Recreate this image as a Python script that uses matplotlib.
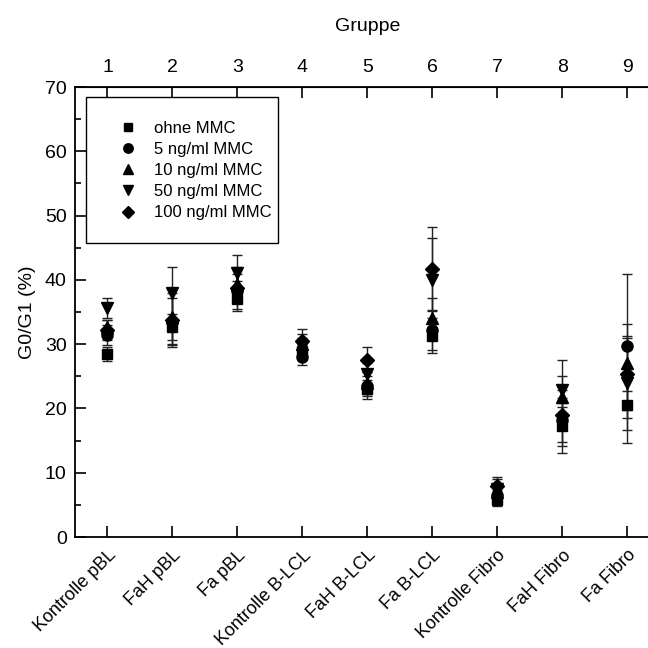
import matplotlib
matplotlib.use("Agg")
import matplotlib.pyplot as plt
from matplotlib.ticker import MultipleLocator
from matplotlib.lines import Line2D
from matplotlib.patches import Rectangle

plt.rcParams['font.family'] = ['Liberation Sans', 'DejaVu Sans']

groups = [1, 2, 3, 4, 5, 6, 7, 8, 9]
categories = ["Kontrolle pBL", "FaH pBL", "Fa pBL", "Kontrolle B-LCL", "FaH B-LCL",
              "Fa B-LCL", "Kontrolle Fibro", "FaH Fibro", "Fa Fibro"]

series_names = ["ohne MMC", "5 ng/ml MMC", "10 ng/ml MMC", "50 ng/ml MMC", "100 ng/ml MMC"]
ohne = [28.5, 32.7, 37.1, 29.0, 23.0, 31.3, 5.7, 17.2, 20.6]
ng5 = [31.4, 33.5, 38.2, 28.0, 23.5, 32.2, 6.5, 18.2, 29.7]
ng10 = [32.7, 34.3, 39.3, 30.0, 24.0, 34.0, 7.0, 21.8, 27.0]
ng50 = [35.6, 37.9, 41.0, 29.5, 25.3, 40.0, 7.5, 22.9, 23.9]
ng100 = [32.2, 33.7, 38.7, 30.5, 27.6, 41.7, 8.0, 19.0, 25.3]

err_ohne = [1.1, 2.0, 2.0, 1.5, 1.5, 2.7, 0.8, 3.0, 4.0]
err_ng5 = [1.6, 3.7, 1.6, 1.2, 1.5, 3.1, 0.8, 3.4, 11.2]
err_ng10 = [1.0, 4.3, 1.6, 1.6, 1.7, 3.2, 1.0, 1.0, 4.3]
err_ng50 = [1.6, 4.1, 2.9, 1.5, 1.8, 6.5, 1.5, 4.7, 9.2]
err_ng100 = [1.5, 4.2, 3.3, 1.8, 2.0, 6.5, 1.4, 6.0, 5.6]

values = [ohne, ng5, ng10, ng50, ng100]
errors = [err_ohne, err_ng5, err_ng10, err_ng50, err_ng100]
markers = ['s', 'o', '^', 'v', 'D']
msizes = [6.5, 8, 8.5, 8.5, 7]

fig = plt.figure(figsize=(6.48, 6.48), dpi=100)
ax = fig.add_axes([75/648, 111/648, 584.5/648, 450/648])

handles = []
for name, v, e, m, ms in zip(series_names, values, errors, markers, msizes):
    ax.errorbar(groups, v, yerr=e, fmt=m, color='black', ms=ms, mec='black',
                ecolor='#222222', elinewidth=1.0, capsize=3.5, capthick=1.0)
    handles.append(Line2D([], [], ls='none', marker=m, color='black', ms=ms * 0.85, label=name))

ax.set_xlim(0.5, 9.5)
ax.set_ylim(0, 70)
ax.yaxis.set_major_locator(MultipleLocator(10))
ax.yaxis.set_minor_locator(MultipleLocator(5))
ax.set_xticks(groups)
ax.set_xticklabels(categories, rotation=45, ha='right', rotation_mode='anchor', fontsize=13)
ax.tick_params(axis='both', which='major', direction='in', length=8, width=1.2, labelsize=14, pad=6)
ax.tick_params(axis='y', which='minor', direction='in', length=4, width=1.2)
ax.tick_params(axis='x', which='major', pad=7, labelsize=13)
ax.set_ylabel("G0/G1 (%)", fontsize=14, labelpad=6)
for s in ax.spines.values():
    s.set_linewidth(1.3)

top = ax.secondary_xaxis('top')
top.set_xticks(groups)
top.set_xticklabels([str(g) for g in groups], fontsize=14)
top.tick_params(direction='in', length=8, width=1.2, pad=8)
top.set_xlabel("Gruppe", fontsize=14, labelpad=20)

# legend frame box
ax.add_patch(Rectangle((0.0188, 0.653), 0.347 - 0.0188, 0.978 - 0.653, transform=ax.transAxes,
                       fill=False, edgecolor='black', linewidth=1.0, zorder=5))
leg = ax.legend(handles=handles, loc='upper left', bbox_to_anchor=(0.0667, 0.925), fontsize=12,
                frameon=False, borderpad=0, labelspacing=0.37, handletextpad=0.75,
                handlelength=1.65, borderaxespad=0)

fig.savefig("out.png", dpi=100)
